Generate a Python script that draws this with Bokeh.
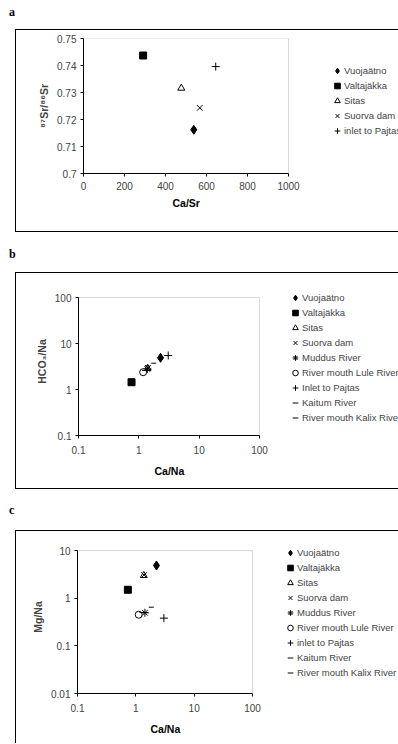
import math
from bokeh.plotting import figure
from bokeh.layouts import column
from bokeh.models import Legend, LegendItem, FixedTicker, Div, BoxAnnotation, Title
from bokeh.embed import file_html
from bokeh.resources import INLINE

# ---------------- data ----------------
a_names = ["Vuojaätno", "Valtajäkka", "Sitas", "Suorva dam", "inlet to Pajtas"]
a_ca_sr = [538, 291, 477, 567, 645]
a_sr_ratio = [0.7162, 0.7437, 0.7316, 0.7243, 0.7396]
a_xticks = [0, 200, 400, 600, 800, 1000]
a_yticks = [0.70, 0.71, 0.72, 0.73, 0.74, 0.75]
a_ytick_labels = ["0.7", "0.71", "0.72", "0.73", "0.74", "0.75"]

b_names = ["Vuojaätno", "Valtajäkka", "Sitas", "Suorva dam", "Muddus River",
           "River mouth Lule River", "Inlet to Pajtas", "Kaitum River",
           "River mouth Kalix River"]
b_ca_na = [2.29, 0.757, 1.40, 1.41, 1.38, 1.18, 3.07, 1.77, 1.32]
b_hco3_na = [4.89, 1.44, 2.90, 2.96, 2.80, 2.38, 5.48, 3.73, 2.60]

c_names = ["Vuojaätno", "Valtajäkka", "Sitas", "Suorva dam", "Muddus River",
           "River mouth Lule River", "inlet to Pajtas", "Kaitum River",
           "River mouth Kalix River"]
c_ca_na = [2.26, 0.73, 1.37, 1.38, 1.43, 1.12, 3.03, 1.84, 1.35]
c_mg_na = [4.85, 1.50, 2.99, 3.05, 0.494, 0.449, 0.381, 0.647, 0.50]

log_ticks_x = [0.1, 1, 10, 100]
log_labels_x = ["0.1", "1", "10", "100"]
b_yticks = [0.1, 1, 10, 100]
b_ytick_labels = ["0.1", "1", "10", "100"]
c_yticks = [0.01, 0.1, 1, 10]
c_ytick_labels = ["0.01", "0.1", "1", "10"]

STYLES = [
    dict(marker="diamond", size=9, fill_color="black"),
    dict(marker="square", size=7, fill_color="black"),
    dict(marker="triangle", size=7, fill_color="white"),
    dict(marker="x", size=8, fill_color=None),
    dict(marker="asterisk", size=8, fill_color=None),
    dict(marker="circle", size=7, fill_color="white"),
    dict(marker="cross", size=8, fill_color=None),
    dict(marker="dash", size=5, fill_color=None),
    dict(marker="dash", size=8, fill_color=None),
]
A_STYLE_IDX = [0, 1, 2, 3, 6]

FONT = "Liberation Sans"
FIG_W = 382


def extend(lo, hi, log, inner_px, outer_px):
    """Range whose first inner_px pixels cover lo..hi, total outer_px pixels."""
    if log:
        a, b = math.log10(lo), math.log10(hi)
        return (lo, 10 ** (a + (b - a) * outer_px / inner_px))
    return (lo, lo + (hi - lo) * outer_px / inner_px)


def make_panel(names, xs, ys, style_idx, log, xlim, ylim, plot_w, plot_h,
               top_extra, xticks, xlabels, yticks, ylabels, xtitle, ytitle,
               height, left, top, bottom, legend_loc, xlab_standoff, xtitle_off,
               xtitle_standoff):
    frame_w = FIG_W - left
    x_range = extend(xlim[0], xlim[1], log, plot_w, frame_w)
    y_range = extend(ylim[0], ylim[1], log, plot_h, plot_h + top_extra)
    ax_type = "log" if log else "linear"
    p = figure(width=FIG_W, height=height, x_axis_type=ax_type, y_axis_type=ax_type,
               x_range=x_range, y_range=y_range, output_backend="svg",
               toolbar_location=None, min_border_left=left,
               min_border_top=top - top_extra, min_border_right=0,
               min_border_bottom=bottom, margin=0)
    p.grid.visible = False
    p.outline_line_color = None

    # plot-area outline (grey top/right edges, axes drawn on top)
    p.add_layout(BoxAnnotation(left=xlim[0], right=xlim[1], bottom=ylim[0],
                               top=ylim[1], fill_alpha=0, line_color="#808080",
                               line_width=1, level="underlay"))

    items = []
    for i, (n, x, y) in enumerate(zip(names, xs, ys)):
        st = STYLES[style_idx[i]]
        rr = p.scatter([x], [y], marker=st["marker"], size=st["size"],
                       fill_color=st["fill_color"], line_color="black",
                       line_width=1)
        items.append(LegendItem(label=n, renderers=[rr]))

    leg = Legend(items=items, location=legend_loc, orientation="vertical",
                 glyph_width=14, glyph_height=15, label_height=15,
                 spacing=0, padding=0, margin=0, border_line_color=None,
                 background_fill_alpha=0, label_text_font=FONT,
                 label_text_font_size="9.5px", label_standoff=-2)
    p.add_layout(leg)

    for ax, ticks, labels, bnds in ((p.xaxis[0], xticks, xlabels, xlim),
                                    (p.yaxis[0], yticks, ylabels, ylim)):
        ax.ticker = FixedTicker(ticks=ticks, minor_ticks=[])
        ax.major_label_overrides = {tk: lb for tk, lb in zip(ticks, labels)}
        ax.bounds = bnds
        ax.axis_label_text_font = FONT
        ax.axis_label_text_font_style = "bold"
        ax.axis_label_text_font_size = "10.5px"
        ax.major_label_text_font = FONT
        ax.major_label_text_font_size = "10px"
        ax.axis_line_color = "black"
        ax.major_tick_line_color = "black"
        ax.minor_tick_line_color = None
        ax.major_tick_in = 0
        ax.major_tick_out = 3
        ax.major_label_standoff = 4
        ax.axis_label_standoff = 4
    p.yaxis[0].axis_label = ytitle
    p.xaxis[0].major_label_standoff = xlab_standoff
    # x-axis title centred under the plot area (not the whole frame)
    p.add_layout(Title(text=xtitle, align="left", offset=xtitle_off,
                       standoff=xtitle_standoff, vertical_align="middle",
                       text_font=FONT, text_font_style="bold",
                       text_font_size="10.5px", text_color="black"), "below")
    return p


def letter_div(letter, height, top):
    html = ('<div style="padding-left:9px; padding-top:%dpx; line-height:8px; '
            'font-family:\'Liberation Serif\'; font-weight:bold; font-size:12px; '
            'color:black">%s</div>' % (top, letter))
    return Div(text=html, width=40, height=height, margin=0)


def boxed(p, bottom_border=True):
    st = {"border-left": "1px solid black", "border-top": "1px solid black"}
    if bottom_border:
        st["border-bottom"] = "1px solid black"
    return column(p, margin=(0, 0, 0, 15), styles=st, spacing=0)


pa = make_panel(a_names, a_ca_sr, a_sr_ratio, A_STYLE_IDX, False,
                (0, 1000), (0.70, 0.75), 205, 135, 0,
                a_xticks, [str(v) for v in a_xticks], a_yticks, a_ytick_labels,
                "Ca/Sr", "⁸⁷Sr/⁸⁶Sr", 201, 67, 8, 58, (247, 35), 5, 89, 6)

pb = make_panel(b_names, b_ca_na, b_hco3_na, list(range(9)), True,
                (0.1, 100), (0.1, 100), 181, 138, 10,
                log_ticks_x, log_labels_x, b_yticks, b_ytick_labels,
                "Ca/Na", "HCO₃/Na", 215, 62, 24, 53, (210, 10), 7, 76, 14)

pc = make_panel(c_names, c_ca_na, c_mg_na, list(range(9)), True,
                (0.1, 100), (0.01, 10), 175, 143, 10,
                log_ticks_x, log_labels_x, c_yticks, c_ytick_labels,
                "Ca/Na", "Mg/Na", 212, 61, 19, 50, (206, 13), 7, 73, 15)

layout = column(letter_div("a", 29, 8), boxed(pa),
                letter_div("b", 40, 18), boxed(pb),
                letter_div("c", 41, 17), boxed(pc, bottom_border=False),
                spacing=0, margin=0)
open("out.html", "w").write(file_html(layout, INLINE))
